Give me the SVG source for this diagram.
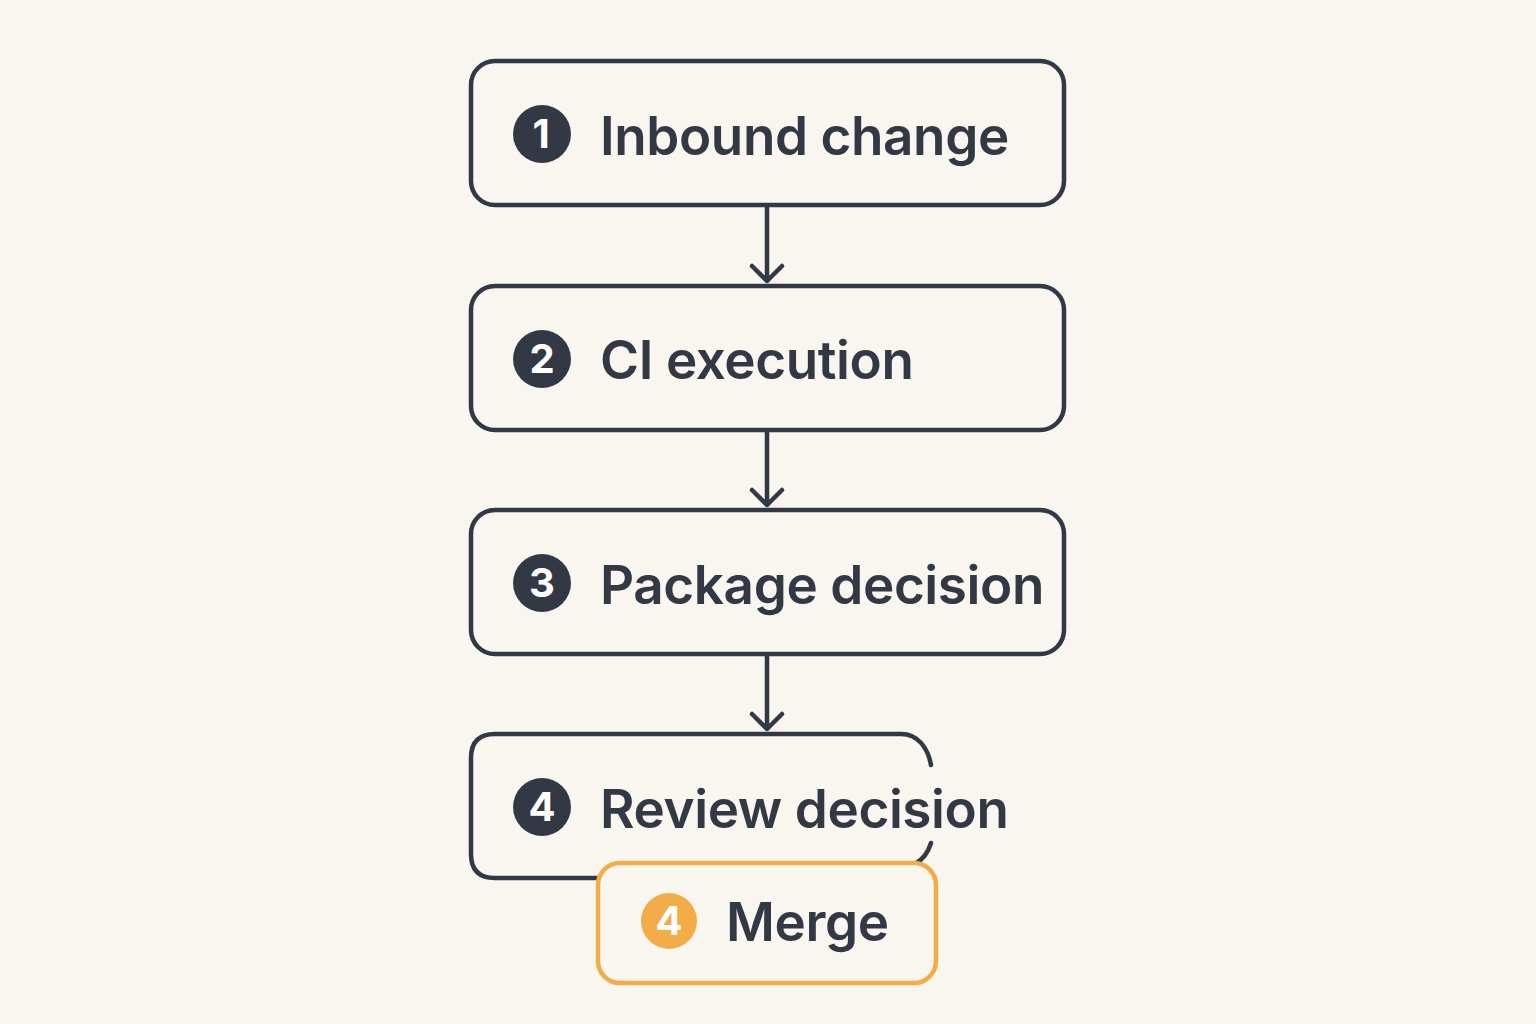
<svg xmlns="http://www.w3.org/2000/svg" width="1536" height="1024" viewBox="0 0 1536 1024">
<defs>
<style>
.box{fill:#f9f5ef;stroke:#323945;stroke-width:4.5}
.edge{fill:none;stroke:#323945;stroke-width:4.5;stroke-linecap:round;stroke-linejoin:round}
.badge{fill:#323945}
.num{font-family:Inter,"Noto Sans",sans-serif;font-weight:700;font-size:40px;fill:#ffffff;text-anchor:middle}
.lbl{font-family:Inter,"Noto Sans",sans-serif;font-weight:600;font-size:53px;letter-spacing:-0.4px;fill:#323945}
.merge{fill:#f9f5ef;stroke:#f2ad48;stroke-width:4.5}
</style>
</defs>
<rect width="1536" height="1024" fill="#f9f5ef"/>
<g id="connectors">
<path class="edge" d="M767 207V281M752 266L767 281L782 266"/>
<path class="edge" d="M767 432V505M752 490L767 505L782 490"/>
<path class="edge" d="M767 656V729M752 714L767 729L782 714"/>
</g>
<g id="n1">
<rect class="box" x="471" y="61" width="593" height="144" rx="24"/>
<circle class="badge" cx="542" cy="134" r="29"/>
<text class="num" x="541" y="148">1</text>
<text class="lbl" x="600" y="155">Inbound change</text>
</g>
<g id="n2">
<rect class="box" x="471" y="286" width="593" height="144" rx="24"/>
<circle class="badge" cx="542" cy="359" r="29"/>
<text class="num" x="542" y="373">2</text>
<text class="lbl" x="600" y="379">CI execution</text>
</g>
<g id="n3">
<rect class="box" x="471" y="510" width="593" height="144" rx="24"/>
<circle class="badge" cx="542" cy="583" r="29"/>
<text class="num" x="542" y="597">3</text>
<text class="lbl" x="600" y="604">Package decision</text>
</g>
<g id="n4">
<path class="edge" d="M931 765C928 748 918 734 901 734H495Q471 734 471 758V854Q471 878 495 878H620M931 843C928 853 922 860 915 864"/>
<circle class="badge" cx="542" cy="807" r="29"/>
<text class="num" x="542" y="821">4</text>
<text class="lbl" x="600" y="828">Review decision</text>
</g>
<g id="n5">
<rect class="merge" x="598" y="863" width="338" height="120" rx="22"/>
<circle cx="669" cy="921" r="28" fill="#f2ad48"/>
<text class="num" x="669" y="935">4</text>
<text class="lbl" x="726" y="941">Merge</text>
</g>
</svg>
